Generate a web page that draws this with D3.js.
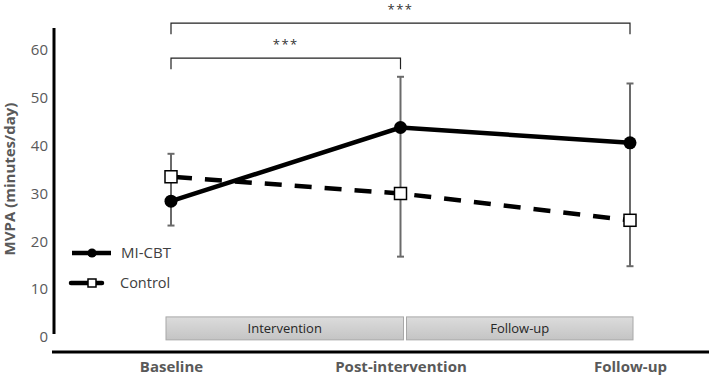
<!DOCTYPE html>
<html>
<head>
<meta charset="utf-8">
<script src="https://cdn.jsdelivr.net/npm/d3@7"></script>
<style>
  body { margin: 0; background: #fff; }
  text { font-family: "Open Sans", "Noto Sans", sans-serif; }
</style>
</head>
<body>
<svg id="chart" width="709" height="377"></svg>
<script>
var WIDTH = 709;
var HEIGHT = 377;

var timepoints = ['Baseline', 'Post-intervention', 'Follow-up'];
var miCbt = [28.4, 43.8, 40.6];
var control = [33.5, 30.0, 24.4];
var errHigh = [38.3, 54.4, 53.0];
var errLow = [23.3, 16.8, 14.8];
var yTicks = [0, 10, 20, 30, 40, 50, 60];
var phases = [
  {label: 'Intervention', from: 0, to: 1},
  {label: 'Follow-up', from: 1, to: 2}
];
var brackets = [
  {from: 0, to: 2, level: 65.6, label: '***'},
  {from: 0, to: 1, level: 58.3, label: '***'}
];

var svg = d3.select('#chart');

var xScale = d3.scalePoint().domain(timepoints).range([171, 630]);
var yScale = d3.scaleLinear().domain([0, 60]).range([337, 50]);

// y axis
svg.append('line')
  .attr('x1', 54).attr('x2', 54)
  .attr('y1', 28).attr('y2', 334)
  .attr('stroke', '#000').attr('stroke-width', 3);

var yAxis = d3.axisLeft(yScale).tickValues(yTicks).tickSize(0).tickPadding(6);
var yAxisGroup = svg.append('g')
  .attr('transform', 'translate(54, 0)')
  .call(yAxis);
yAxisGroup.select('.domain').remove();
yAxisGroup.selectAll('text')
  .attr('fill', '#595959')
  .style('font-size', '15px')
  .style('font-family', '"Open Sans", sans-serif');

svg.append('text')
  .attr('transform', 'translate(15, 179) rotate(-90)')
  .attr('text-anchor', 'middle')
  .attr('fill', '#595959')
  .style('font-size', '15px')
  .style('font-weight', 'bold')
  .text('MVPA (minutes/day)');

// x axis
svg.append('line')
  .attr('x1', 52).attr('x2', WIDTH)
  .attr('y1', 352).attr('y2', 352)
  .attr('stroke', '#000').attr('stroke-width', 3);

var xAxis = d3.axisBottom(xScale).tickSize(0).tickPadding(0);
var xAxisGroup = svg.append('g')
  .attr('transform', 'translate(0, 359)')
  .call(xAxis);
xAxisGroup.select('.domain').remove();
xAxisGroup.selectAll('text')
  .attr('fill', '#595959')
  .attr('dy', '0.85em')
  .style('font-size', '15px')
  .style('font-weight', 'bold')
  .style('font-family', '"Open Sans", sans-serif');

// phase boxes
var grad = svg.append('defs').append('linearGradient')
  .attr('id', 'phaseFill')
  .attr('x1', 0).attr('y1', 0).attr('x2', 0).attr('y2', 1);
grad.append('stop').attr('offset', '0%').attr('stop-color', '#dcdcdc');
grad.append('stop').attr('offset', '100%').attr('stop-color', '#c4c4c4');

var phaseGroup = svg.append('g');
phases.forEach(function(p, i) {
  var x0 = xScale(timepoints[p.from]) + (i === 0 ? -5 : 6);
  var x1 = xScale(timepoints[p.to]) + 3;
  var y0 = yScale(4.2);
  var y1 = yScale(-0.6);
  phaseGroup.append('rect')
    .attr('x', x0).attr('y', y0)
    .attr('width', x1 - x0).attr('height', y1 - y0)
    .attr('fill', 'url(#phaseFill)')
    .attr('stroke', '#a8a8a8')
    .attr('stroke-width', 1);
  phaseGroup.append('text')
    .attr('x', (x0 + x1) / 2)
    .attr('y', (y0 + y1) / 2)
    .attr('dy', '0.35em')
    .attr('text-anchor', 'middle')
    .attr('fill', '#262626')
    .style('font-size', '13px')
    .text(p.label);
});

// significance brackets
var bracketGroup = svg.append('g');
brackets.forEach(function(b) {
  var xa = xScale(timepoints[b.from]);
  var xb = xScale(timepoints[b.to]);
  var y = yScale(b.level);
  var yd = yScale(b.level - 2.3);
  bracketGroup.append('path')
    .attr('d', 'M' + xa + ',' + yd + 'V' + y + 'H' + xb + 'V' + yd)
    .attr('fill', 'none')
    .attr('stroke', '#222')
    .attr('stroke-width', 1.2);
  bracketGroup.append('text')
    .attr('x', (xa + xb) / 2)
    .attr('y', y - 9)
    .attr('text-anchor', 'middle')
    .attr('fill', '#333')
    .style('font-size', '13px')
    .style('letter-spacing', '1.5px')
    .text(b.label);
});

// error bars
var errGroup = svg.append('g');
timepoints.forEach(function(t, i) {
  var x = xScale(t);
  errGroup.append('line')
    .attr('x1', x).attr('x2', x)
    .attr('y1', yScale(errHigh[i])).attr('y2', yScale(errLow[i]))
    .attr('stroke', '#6a6a6a').attr('stroke-width', 2);
  [errHigh[i], errLow[i]].forEach(function(v) {
    errGroup.append('line')
      .attr('x1', x - 3.5).attr('x2', x + 3.5)
      .attr('y1', yScale(v)).attr('y2', yScale(v))
      .attr('stroke', '#6a6a6a').attr('stroke-width', 2);
  });
});

var line = d3.line()
  .x(function(d, i) { return xScale(timepoints[i]); })
  .y(function(d) { return yScale(d); });

svg.append('path')
  .attr('d', line(control))
  .attr('fill', 'none')
  .attr('stroke', '#000')
  .attr('stroke-width', 4.5)
  .attr('stroke-dasharray', '17,13')
  .attr('stroke-dashoffset', -4);

svg.append('path')
  .attr('d', line(miCbt))
  .attr('fill', 'none')
  .attr('stroke', '#000')
  .attr('stroke-width', 4.5);

svg.append('g').selectAll('circle')
  .data(miCbt)
  .enter()
  .append('circle')
  .attr('cx', function(d, i) { return xScale(timepoints[i]); })
  .attr('cy', function(d) { return yScale(d); })
  .attr('r', 6.5)
  .attr('fill', '#000');

svg.append('g').selectAll('rect')
  .data(control)
  .enter()
  .append('rect')
  .attr('x', function(d, i) { return xScale(timepoints[i]) - 6; })
  .attr('y', function(d) { return yScale(d) - 6; })
  .attr('width', 12)
  .attr('height', 12)
  .attr('fill', '#fff')
  .attr('stroke', '#000')
  .attr('stroke-width', 1.5);

// legend
var legend = svg.append('g');
legend.append('line')
  .attr('x1', 72).attr('x2', 111).attr('y1', 253).attr('y2', 253)
  .attr('stroke', '#000').attr('stroke-width', 4.5);
legend.append('circle').attr('cx', 92).attr('cy', 253).attr('r', 4.5).attr('fill', '#000');
legend.append('text')
  .attr('x', 121).attr('y', 253).attr('dy', '0.35em')
  .attr('fill', '#404040').style('font-size', '15px')
  .text('MI-CBT');

legend.append('line')
  .attr('x1', 71).attr('x2', 112).attr('y1', 283).attr('y2', 283)
  .attr('stroke', '#000').attr('stroke-width', 4.5)
  .attr('stroke-dasharray', '17,6,8,20')
  .attr('stroke-linecap', 'round');
legend.append('rect')
  .attr('x', 88).attr('y', 279).attr('width', 8).attr('height', 8)
  .attr('fill', '#fff').attr('stroke', '#000').attr('stroke-width', 1.5);
legend.append('text')
  .attr('x', 120).attr('y', 283).attr('dy', '0.35em')
  .attr('fill', '#404040').style('font-size', '14.5px')
  .text('Control');
</script>
</body>
</html>
